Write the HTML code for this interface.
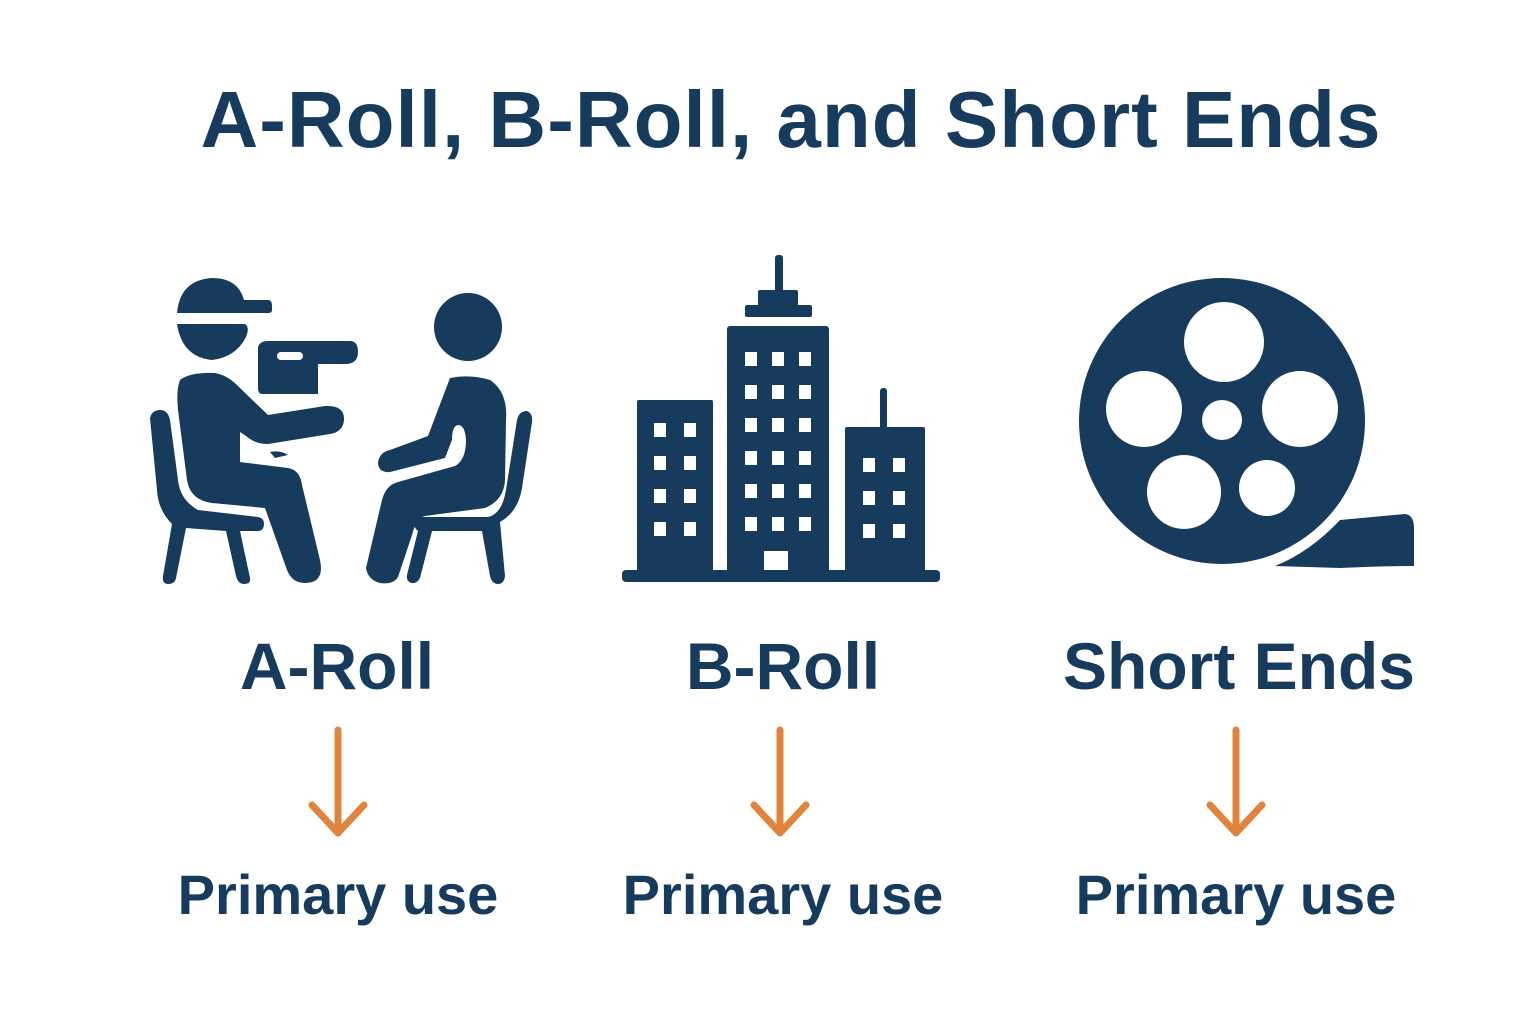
<!DOCTYPE html>
<html><head><meta charset="utf-8"><style>
html,body{margin:0;padding:0;background:#fff;}
body{width:1536px;height:1024px;overflow:hidden;position:relative;font-family:"Liberation Sans",sans-serif;color:#173b5c;}
.t{position:absolute;white-space:nowrap;font-weight:bold;text-align:center;transform:translateX(-50%);}
</style></head><body>
<svg width="1536" height="1024" style="position:absolute;left:0;top:0">
<g fill="#173b5c">
<path d="M177 313 Q180 280 212 278 Q238 278 244 300 L268 300 Q272 300 272 306 L272 310 Q272 313 268 313 Z"/>
<path d="M177 324 L245 324 Q250 327 246 337 Q236 357 212 360 Q182 357 177 324 Z"/>
<path d="M258 347 Q260 341 268 341 L350 341 Q358 341 358 352 Q358 364 345 364 L318 364 L318 394 L262 394 Q258 394 258 388 Z"/>
<rect x="277" y="352" width="26" height="8" rx="4" fill="#fff"/>
<path d="M180 380 Q190 372 215 373 Q228 375 240 388 L268 415 L325 406 Q345 405 344 420 Q343 432 330 434 L268 444 Q255 444 246 436 L240 432 Q220 418 222 412 Q228 406 235 410 L240 420 L240 462 L288 468 Q300 470 302 485 L320 560 Q325 583 305 583 Q292 583 287 570 L265 508 L212 503 Q190 500 187 480 L178 410 Q176 390 180 380Z"/>
<path d="M150 418 Q152 410 160 410 Q168 410 170 420 L178 480 Q180 500 198 510 L258 517 Q264 518 264 524 Q264 532 255 531 L240 531 L250 578 Q251 584 244 584 Q238 584 236 576 L226 531 L186 528 L176 578 Q175 584 168 584 Q162 584 163 576 L172 524 Q158 510 157 490 Z"/>
<path d="M270 452 Q280 450 288 455 L275 458 Z"/>
<circle cx="468" cy="327" r="34"/>
<path d="M450 378 Q470 374 490 380 Q508 392 506 420 L505 480 Q504 500 485 508 L425 516 Q416 518 412 535 L398 577 Q393 585 380 583 Q368 580 366 568 L382 500 Q386 485 398 482 L455 466 Q466 460 466 440 Q465 425 458 425 Q452 426 452 440 L445 458 L390 472 Q378 473 378 462 Q380 452 390 450 L428 436 Z"/>
<path d="M517 420 Q519 411 527 411 Q533 413 532 422 L522 488 Q518 512 500 522 L505 576 Q504 584 498 584 Q492 584 490 576 L482 531 L432 531 L420 578 Q417 584 411 583 Q406 581 407 575 L418 531 Q413 527 414 522 Q416 517 422 517 L488 517 Q502 514 506 490 Z"/>
<rect x="775" y="255" width="8" height="38" rx="3"/>
<rect x="758" y="290" width="40" height="16" rx="2"/>
<rect x="745" y="305" width="67" height="12" rx="2"/>
<rect x="727" y="326" width="102" height="250" rx="3"/>
<rect x="637" y="400" width="76" height="176" rx="2"/>
<rect x="880" y="388" width="7" height="42" rx="3"/>
<rect x="845" y="427" width="80" height="149" rx="2"/>
<rect x="622" y="570" width="318" height="12" rx="4"/>
<circle cx="1222" cy="421" r="143"/>
<path d="M1275 566 Q1310 552 1340 520 L1405 514 Q1414 515 1414 528 L1414 566 Q1380 566 1340 568 Z"/>
</g>
<g fill="#fff">
<g id="wc">
<rect x="745" y="352" width="12" height="14"/><rect x="772" y="352" width="12" height="14"/><rect x="799" y="352" width="12" height="14"/>
</g>
<use href="#wc" y="33"/><use href="#wc" y="66"/><use href="#wc" y="99"/><use href="#wc" y="132"/><use href="#wc" y="165"/>
<rect x="764" y="551" width="24" height="19"/>
<g id="wl"><rect x="654" y="423" width="12" height="14"/><rect x="684" y="423" width="12" height="14"/></g>
<use href="#wl" y="33"/><use href="#wl" y="66"/><use href="#wl" y="99"/>
<g id="wr"><rect x="863" y="458" width="12" height="14"/><rect x="893" y="458" width="12" height="14"/></g>
<use href="#wr" y="33"/><use href="#wr" y="66"/>
<circle cx="1224" cy="342" r="40"/><circle cx="1144" cy="409" r="38"/><circle cx="1300" cy="409" r="38"/>
<circle cx="1222" cy="420" r="20"/><circle cx="1184" cy="492" r="37"/><circle cx="1267" cy="488" r="28"/>
</g>
<g stroke="#e0843e" stroke-width="7" fill="none" stroke-linecap="round" stroke-linejoin="round">
<path d="M338 730 L338 833 M312 805 L338 833 L364 805"/>
<path d="M780 730 L780 833 M754 805 L780 833 L806 805"/>
<path d="M1236 730 L1236 833 M1210 805 L1236 833 L1262 805"/>
</g>
</svg>
<div class="t" style="left:791px;top:74px;font-size:80px;letter-spacing:1px;">A-Roll, B-Roll, and Short Ends</div>
<div class="t" style="left:337px;top:628px;font-size:66px;">A-Roll</div>
<div class="t" style="left:783px;top:628px;font-size:66px;">B-Roll</div>
<div class="t" style="left:1239px;top:628px;font-size:66px;">Short Ends</div>
<div class="t" style="left:338px;top:862px;font-size:56px;">Primary use</div>
<div class="t" style="left:783px;top:862px;font-size:56px;">Primary use</div>
<div class="t" style="left:1236px;top:862px;font-size:56px;">Primary use</div>
</body></html>
